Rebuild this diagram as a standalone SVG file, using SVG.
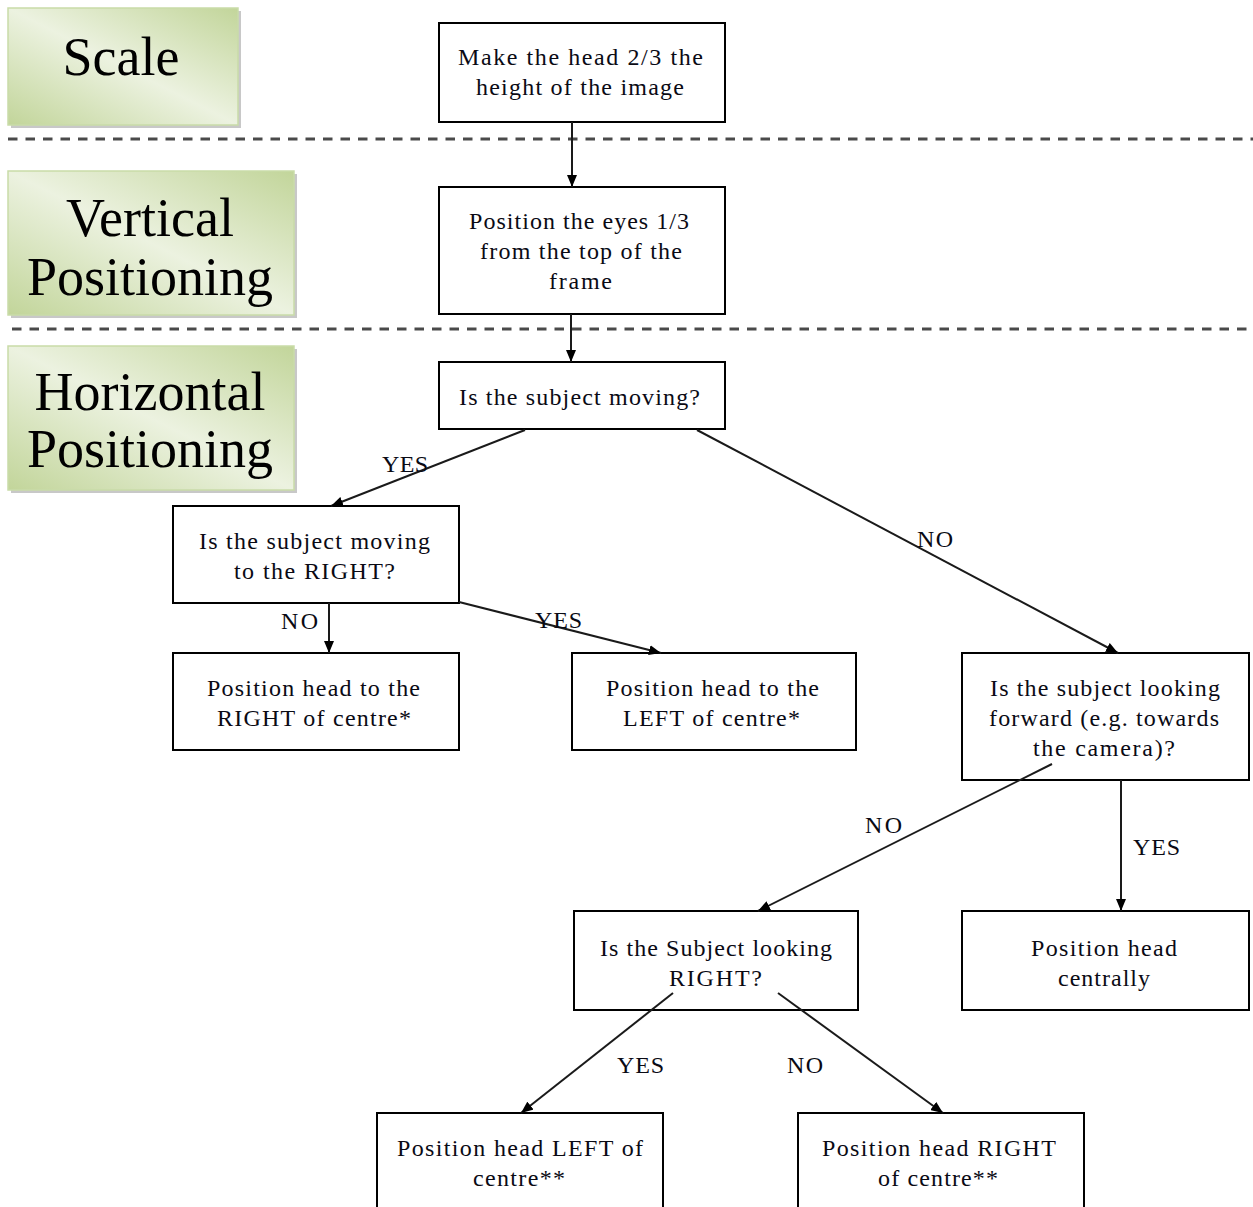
<svg xmlns="http://www.w3.org/2000/svg" width="1253" height="1207" viewBox="0 0 1253 1207">
  <style>
    .box { fill: #ffffff; stroke: #000000; stroke-width: 2; }
    .t { font-family: "Liberation Serif", "Times New Roman", serif; font-size: 24px; fill: #0a0a14; }
    .lbl { font-family: "Liberation Serif", "Times New Roman", serif; font-size: 24px; fill: #0a0a14; }
    .stage { fill: url(#greenGrad); stroke: #c9dba8; stroke-width: 1.5; }
    .shadow { fill: #9a9a9a; opacity: 0.55; }
    .stageText { font-family: "Liberation Serif", "Times New Roman", serif; font-size: 54px; fill: #000000; text-anchor: middle; }
    .sep { stroke: #4a4a4a; stroke-width: 3; stroke-dasharray: 9.5 8; fill: none; }
    .conn { stroke: #1a1a1a; stroke-width: 2; fill: none; marker-end: url(#arrow); }
  </style>
  <defs>
    <linearGradient id="greenGrad" x1="1" y1="0" x2="0" y2="1">
      <stop offset="0" stop-color="#c2d59a"/>
      <stop offset="0.5" stop-color="#ecf2e0"/>
      <stop offset="1" stop-color="#c2d59a"/>
    </linearGradient>
    <marker id="arrow" viewBox="0 0 12 10" refX="12" refY="5" markerWidth="12" markerHeight="10" markerUnits="userSpaceOnUse" orient="auto">
      <path d="M0,0 L12,5 L0,10 Z" fill="#000000"/>
    </marker>
  </defs>

  <!-- stage labels -->
  <g id="stage-scale">
    <rect class="shadow" x="11" y="11" width="230" height="117"/>
    <rect class="stage" x="8" y="8" width="230" height="117"/>
    <text class="stageText" x="121" y="75">Scale</text>
  </g>
  <g id="stage-vertical">
    <rect class="shadow" x="11" y="174" width="286" height="144"/>
    <rect class="stage" x="8" y="171" width="286" height="144"/>
    <text class="stageText" x="150" y="236">Vertical</text>
    <text class="stageText" x="150" y="295">Positioning</text>
  </g>
  <g id="stage-horizontal">
    <rect class="shadow" x="11" y="349" width="286" height="144"/>
    <rect class="stage" x="8" y="346" width="286" height="144"/>
    <text class="stageText" x="150" y="410">Horizontal</text>
    <text class="stageText" x="150" y="467">Positioning</text>
  </g>

  <!-- section dividers -->
  <g id="dividers">
    <line class="sep" x1="8" y1="139" x2="1253" y2="139"/>
    <line class="sep" x1="12" y1="329" x2="1253" y2="329"/>
  </g>

  <!-- nodes -->
  <g id="n-scale-head">
    <rect class="box" x="439" y="23" width="286" height="99"/>
    <text class="t" x="458" y="65" textLength="245" lengthAdjust="spacing">Make the head 2/3 the</text>
    <text class="t" x="476" y="95" textLength="208" lengthAdjust="spacing">height of the image</text>
  </g>
  <g id="n-eyes">
    <rect class="box" x="439" y="187" width="286" height="127"/>
    <text class="t" x="469" y="229" textLength="220" lengthAdjust="spacing">Position the eyes 1/3</text>
    <text class="t" x="480" y="259" textLength="202" lengthAdjust="spacing">from the top of the</text>
    <text class="t" x="549" y="289" textLength="63" lengthAdjust="spacing">frame</text>
  </g>
  <g id="n-moving">
    <rect class="box" x="439" y="362" width="286" height="67"/>
    <text class="t" x="459" y="405" textLength="241" lengthAdjust="spacing">Is the subject moving?</text>
  </g>
  <g id="n-moving-right">
    <rect class="box" x="173" y="506" width="286" height="97"/>
    <text class="t" x="199" y="549" textLength="231" lengthAdjust="spacing">Is the subject moving</text>
    <text class="t" x="234" y="579" textLength="161" lengthAdjust="spacing">to the RIGHT?</text>
  </g>
  <g id="n-head-right">
    <rect class="box" x="173" y="653" width="286" height="97"/>
    <text class="t" x="207" y="696" textLength="213" lengthAdjust="spacing">Position head to the</text>
    <text class="t" x="217" y="726" textLength="194" lengthAdjust="spacing">RIGHT of centre*</text>
  </g>
  <g id="n-head-left">
    <rect class="box" x="572" y="653" width="284" height="97"/>
    <text class="t" x="606" y="696" textLength="213" lengthAdjust="spacing">Position head to the</text>
    <text class="t" x="623" y="726" textLength="177" lengthAdjust="spacing">LEFT of centre*</text>
  </g>
  <g id="n-looking-forward">
    <rect class="box" x="962" y="653" width="287" height="127"/>
    <text class="t" x="990" y="696" textLength="230" lengthAdjust="spacing">Is the subject looking</text>
    <text class="t" x="989" y="726" textLength="230" lengthAdjust="spacing">forward (e.g. towards</text>
    <text class="t" x="1033" y="756" textLength="142" lengthAdjust="spacing">the camera)?</text>
  </g>
  <g id="n-looking-right">
    <rect class="box" x="574" y="911" width="284" height="99"/>
    <text class="t" x="600" y="956" textLength="232" lengthAdjust="spacing">Is the Subject looking</text>
    <text class="t" x="669" y="986" textLength="93" lengthAdjust="spacing">RIGHT?</text>
  </g>
  <g id="n-centrally">
    <rect class="box" x="962" y="911" width="287" height="99"/>
    <text class="t" x="1031" y="956" textLength="146" lengthAdjust="spacing">Position head</text>
    <text class="t" x="1058" y="986" textLength="92" lengthAdjust="spacing">centrally</text>
  </g>
  <g id="n-left-centre">
    <rect class="box" x="377" y="1113" width="286" height="110"/>
    <text class="t" x="397" y="1156" textLength="246" lengthAdjust="spacing">Position head LEFT of</text>
    <text class="t" x="473" y="1186" textLength="92" lengthAdjust="spacing">centre**</text>
  </g>
  <g id="n-right-centre">
    <rect class="box" x="798" y="1113" width="286" height="110"/>
    <text class="t" x="822" y="1156" textLength="234" lengthAdjust="spacing">Position head RIGHT</text>
    <text class="t" x="878" y="1186" textLength="120" lengthAdjust="spacing">of centre**</text>
  </g>

  <!-- connectors (drawn over the boxes; some start inside a box) -->
  <g id="connectors">
    <line class="conn" x1="572" y1="122" x2="572" y2="187"/>
    <line class="conn" x1="571" y1="314" x2="571" y2="362"/>
    <line class="conn" x1="525" y1="430" x2="331" y2="506"/>
    <line class="conn" x1="697" y1="430" x2="1118" y2="653"/>
    <line class="conn" x1="329" y1="603" x2="329" y2="653"/>
    <line class="conn" x1="459" y1="602" x2="661" y2="653"/>
    <line class="conn" x1="1052" y1="764" x2="758" y2="911"/>
    <line class="conn" x1="1121" y1="780" x2="1121" y2="911"/>
    <line class="conn" x1="673" y1="993" x2="521" y2="1113"/>
    <line class="conn" x1="778" y1="993" x2="943" y2="1113"/>

    <text class="lbl" x="382" y="472" textLength="46" lengthAdjust="spacing">YES</text>
    <text class="lbl" x="917" y="547" textLength="36" lengthAdjust="spacing">NO</text>
    <text class="lbl" x="281" y="629" textLength="37" lengthAdjust="spacing">NO</text>
    <text class="lbl" x="535" y="628" textLength="47" lengthAdjust="spacing">YES</text>
    <text class="lbl" x="865" y="833" textLength="37" lengthAdjust="spacing">NO</text>
    <text class="lbl" x="1133" y="855" textLength="47" lengthAdjust="spacing">YES</text>
    <text class="lbl" x="617" y="1073" textLength="47" lengthAdjust="spacing">YES</text>
    <text class="lbl" x="787" y="1073" textLength="36" lengthAdjust="spacing">NO</text>
  </g>
</svg>
